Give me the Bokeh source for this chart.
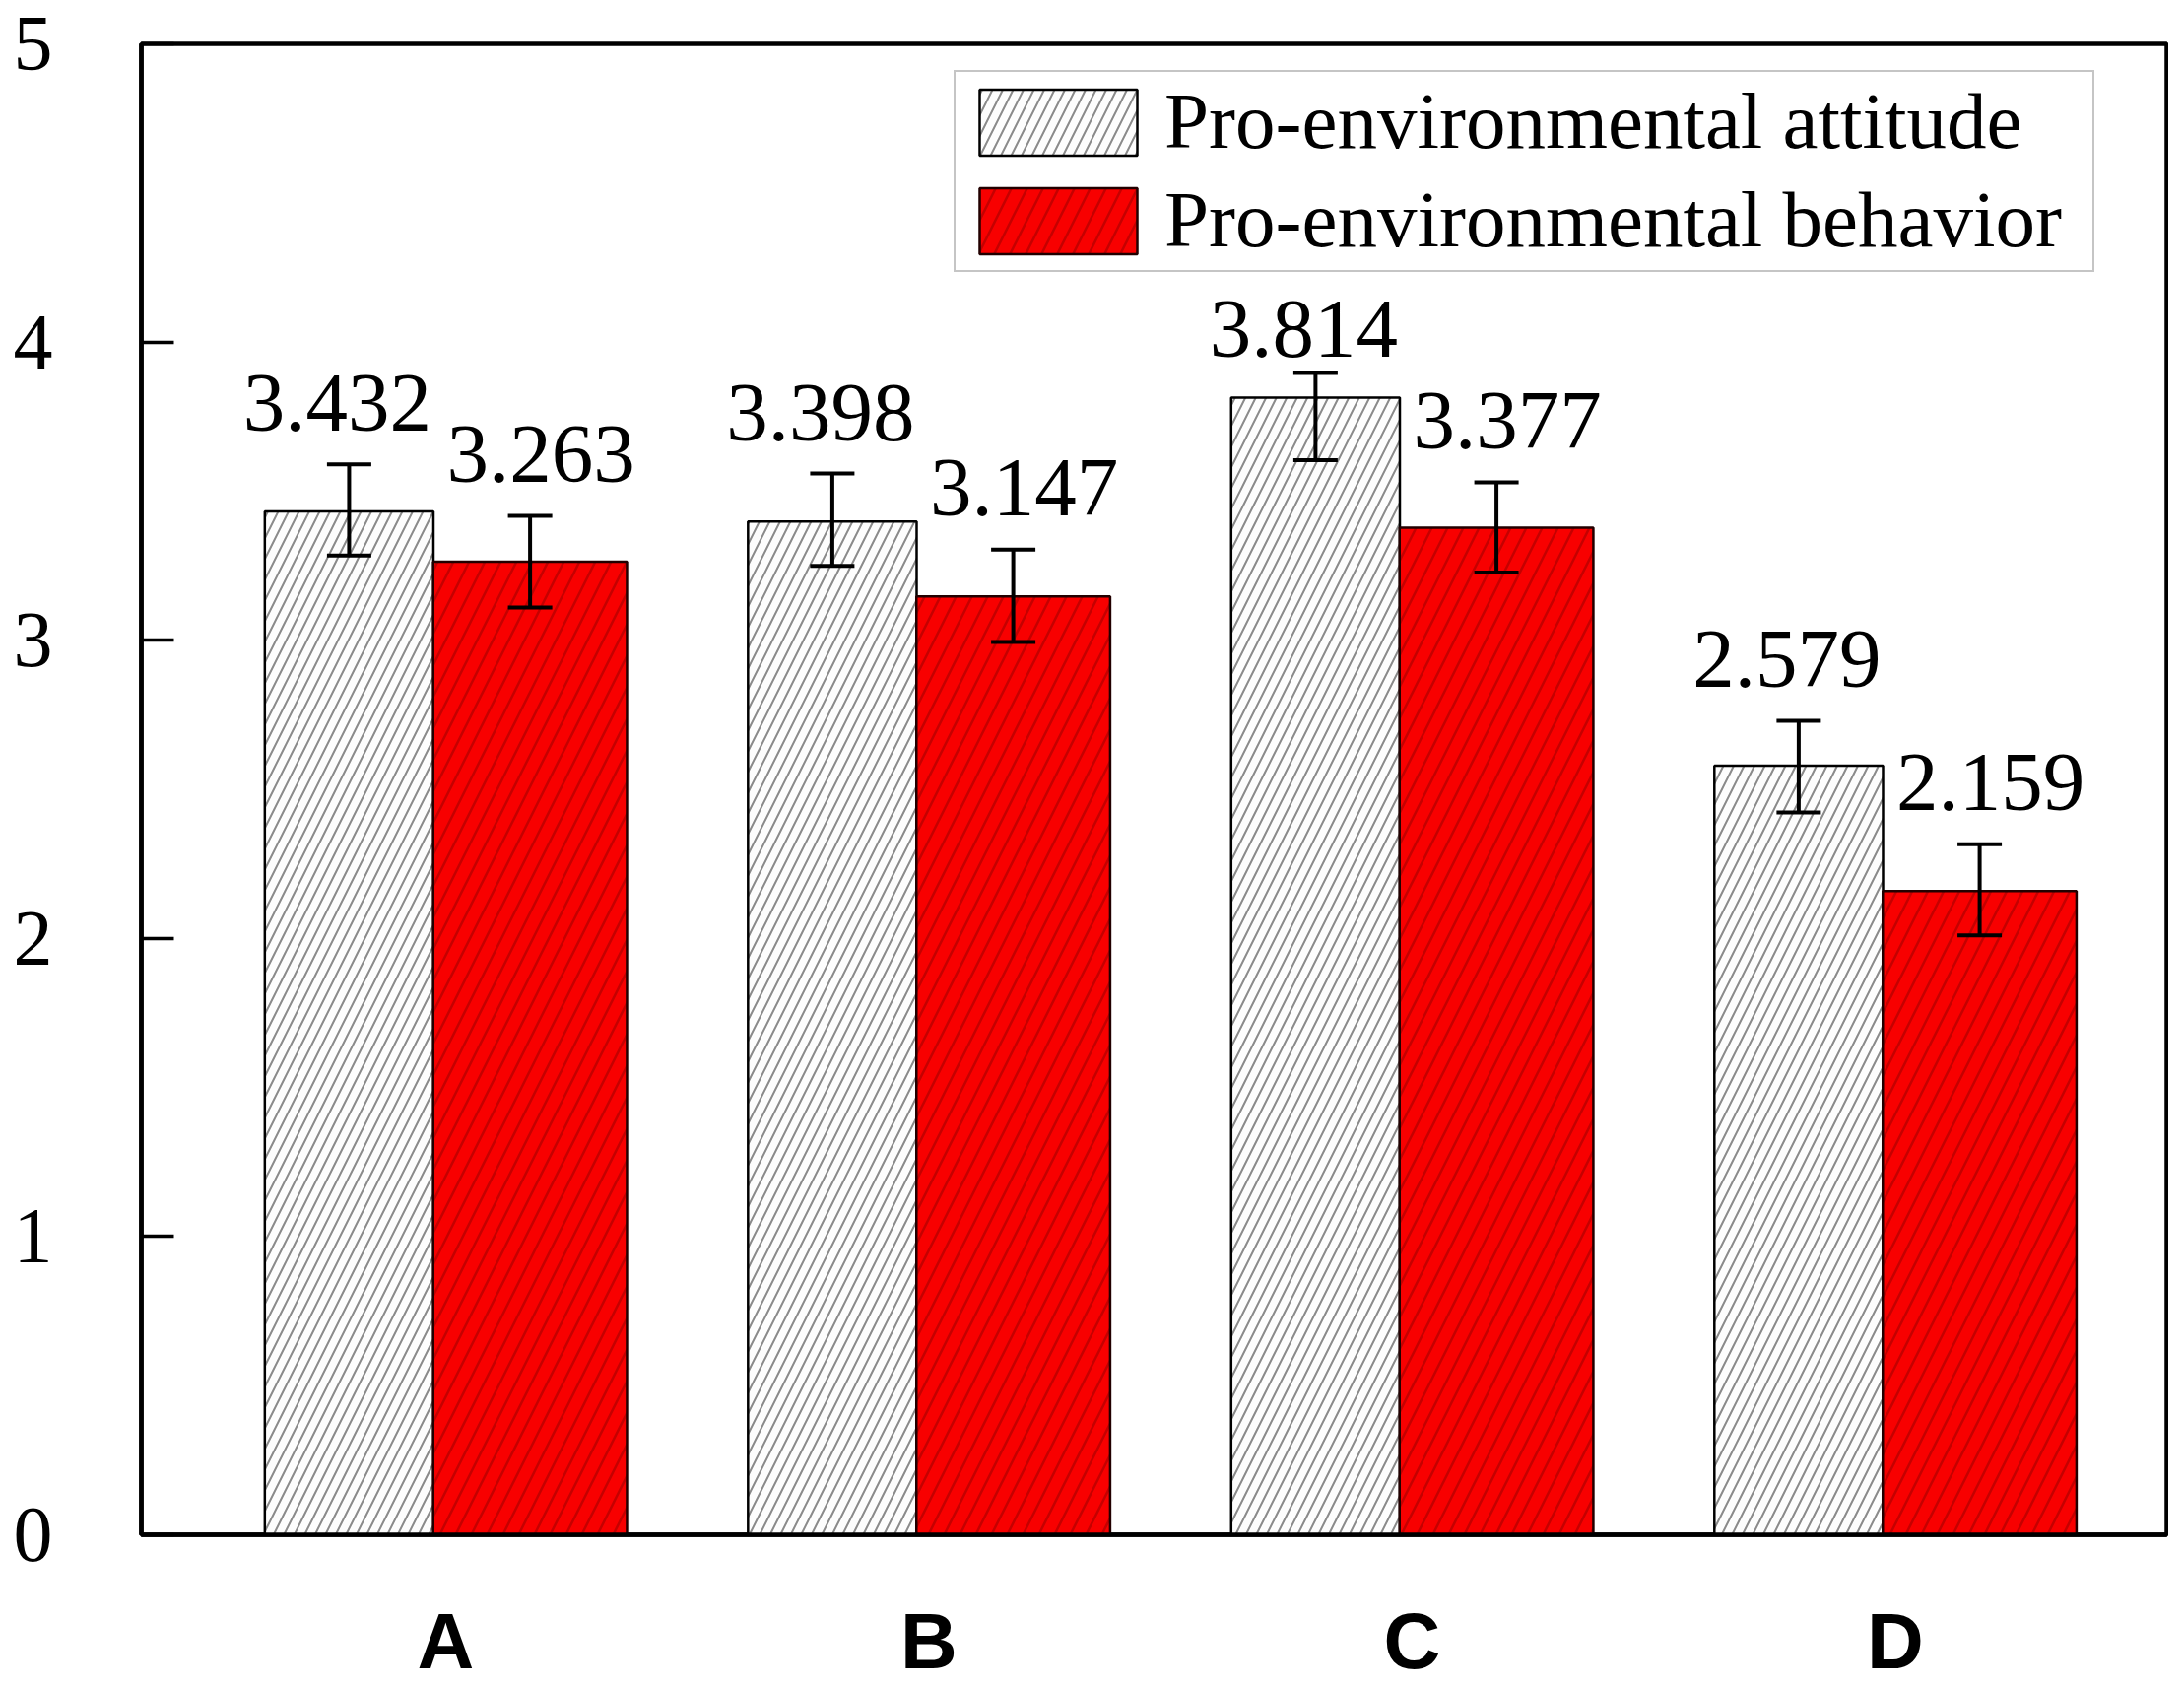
import numpy as np
from bokeh.plotting import figure
from bokeh.models import (ColumnDataSource, Whisker, TeeHead, LabelSet,
                          FixedTicker, Range1d)
from bokeh.transform import dodge
from bokeh.embed import file_html
from bokeh.resources import INLINE

# ---- data ----
groups = ["A", "B", "C", "D"]
attitude = [3.432, 3.398, 3.814, 2.579]
behavior = [3.263, 3.147, 3.377, 2.159]
attitude_err_low = [3.284, 3.249, 3.604, 2.422]
attitude_err_high = [3.590, 3.559, 3.896, 2.730]
behavior_err_low = [3.110, 2.994, 3.227, 2.010]
behavior_err_high = [3.417, 3.304, 3.529, 2.316]
series_names = ["Pro-environmental attitude", "Pro-environmental behavior"]
y_ticks = [0, 1, 2, 3, 4, 5]

idx = list(range(1, len(groups) + 1))

SERIF = "Liberation Serif"
SANS = "Liberation Sans"

# style / layout
ATT_OFF, ATT_W = -0.200, 0.349
BEH_OFF, BEH_W = 0.1745, 0.401

att_src = ColumnDataSource(dict(
    idx=idx, val=attitude, lo=attitude_err_low, hi=attitude_err_high,
    txt=[f"{v:.3f}" for v in attitude],
    dy=[34 if g != "C" else 17 for g in groups],
))
beh_src = ColumnDataSource(dict(
    idx=idx, val=behavior, lo=behavior_err_low, hi=behavior_err_high,
    txt=[f"{v:.3f}" for v in behavior],
    dy=[35 for g in groups],
))

p = figure(width=2201, height=1712,
           x_range=Range1d(0.370, 4.5617), y_range=Range1d(0, 5),
           output_backend="svg", toolbar_location=None,
           min_border_left=143, min_border_right=2,
           min_border_top=44, min_border_bottom=154)

p.background_fill_color = "white"
p.border_fill_color = "white"
p.outline_line_color = "black"
p.outline_line_width = 4.5
p.xgrid.visible = False
p.ygrid.visible = False

p.vbar(x=dodge("idx", ATT_OFF, range=p.x_range), top="val", width=ATT_W,
       bottom=0, source=att_src,
       fill_color="#fdfdfd", line_color="black", line_width=2.5,
       hatch_pattern="/", hatch_color="#8a8a8a", hatch_weight=2,
       hatch_scale=21, legend_label=series_names[0])
p.vbar(x=dodge("idx", BEH_OFF, range=p.x_range), top="val", width=BEH_W,
       bottom=0, source=beh_src,
       fill_color="#f80000", line_color="#220000", line_width=2.5,
       hatch_pattern="/", hatch_color="#b80000", hatch_weight=2.5,
       hatch_scale=32, hatch_alpha=0.8, legend_label=series_names[1])

for src, off in ((att_src, ATT_OFF), (beh_src, BEH_OFF)):
    w = Whisker(source=src, base=dodge("idx", off, range=p.x_range),
                upper="hi", lower="lo", line_color="black", line_width=4,
                upper_head=TeeHead(size=45, line_width=4, line_color="black"),
                lower_head=TeeHead(size=45, line_width=4, line_color="black"),
                level="overlay")
    p.add_layout(w)

p.add_layout(LabelSet(x=dodge("idx", ATT_OFF, range=p.x_range), y="hi",
                      text="txt", source=att_src, x_offset=-12, y_offset="dy",
                      text_align="center", text_baseline="alphabetic",
                      text_font=SERIF, text_font_size="85px", text_color="black"))
p.add_layout(LabelSet(x=dodge("idx", BEH_OFF, range=p.x_range), y="hi",
                      text="txt", source=beh_src, x_offset=11, y_offset="dy",
                      text_align="center", text_baseline="alphabetic",
                      text_font=SERIF, text_font_size="85px", text_color="black"))

# y axis
p.yaxis.ticker = FixedTicker(ticks=y_ticks)
p.yaxis.minor_tick_line_color = None
p.yaxis.major_tick_in = 33
p.yaxis.major_tick_out = 0
p.yaxis.major_tick_line_width = 3.5
p.yaxis.major_tick_line_color = "black"
p.yaxis.axis_line_width = 4.5
p.yaxis.axis_line_color = "black"
p.yaxis.major_label_text_font = SERIF
p.yaxis.major_label_text_font_size = "80px"
p.yaxis.major_label_text_color = "black"
p.yaxis.major_label_standoff = 90

# x axis
p.xaxis.ticker = FixedTicker(ticks=idx)
p.xaxis.major_label_overrides = {i: g for i, g in zip(idx, groups)}
p.xaxis.minor_tick_line_color = None
p.xaxis.major_tick_line_color = None
p.xaxis.major_tick_in = 0
p.xaxis.major_tick_out = 0
p.xaxis.axis_line_width = 4.5
p.xaxis.axis_line_color = "black"
p.xaxis.major_label_text_font = SANS
p.xaxis.major_label_text_font_style = "bold"
p.xaxis.major_label_text_font_size = "80px"
p.xaxis.major_label_text_color = "black"
p.xaxis.major_label_standoff = 63

# legend
lg = p.legend[0]
lg.location = (825, 1281)
lg.margin = 0
lg.padding = 4
lg.spacing = 7
lg.glyph_width = 200
lg.glyph_height = 84
lg.label_standoff = 8
lg.label_width = 938
lg.label_text_font = SERIF
lg.label_text_font_size = "81px"
lg.label_text_color = "black"
lg.border_line_color = "#8c8c8c"
lg.border_line_width = 2.5
lg.background_fill_color = "white"
lg.background_fill_alpha = 1.0

open("out.html", "w").write(file_html(p, INLINE))
